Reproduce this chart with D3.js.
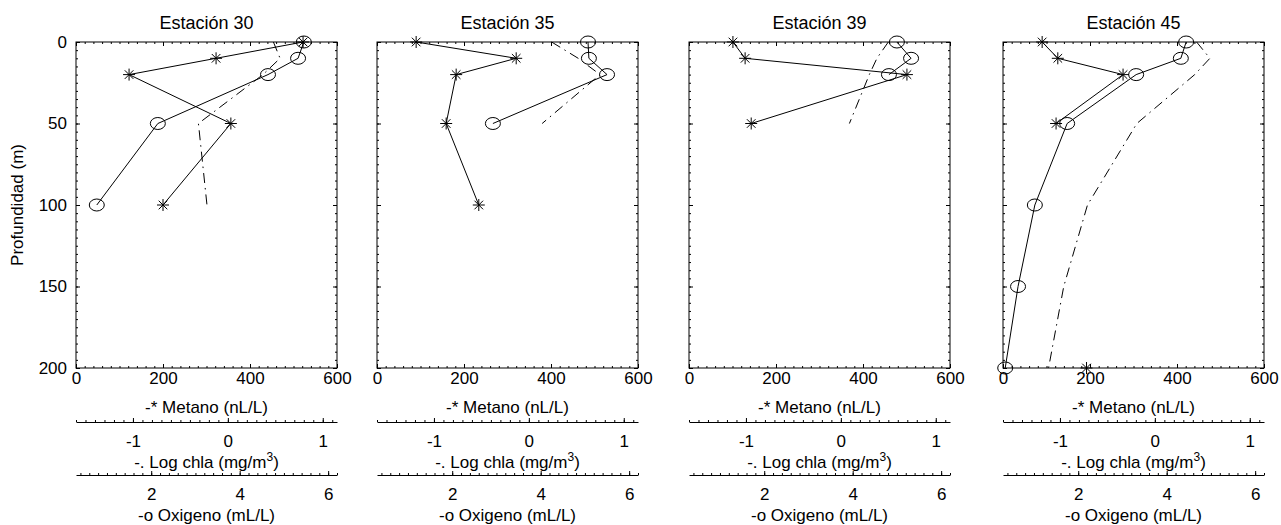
<!DOCTYPE html>
<html>
<head>
<meta charset="utf-8">
<script src="https://cdn.jsdelivr.net/npm/d3@7"></script>
<style>
  body { margin: 0; background: #fff; }
  svg { display: block; font-family: "Liberation Sans", Arial, sans-serif; }
</style>
</head>
<body>
<script>
// data
const stations = ["Estación 30", "Estación 35", "Estación 39", "Estación 45"];

const depthTicks = [0, 50, 100, 150, 200];
const metanoTicks = [0, 200, 400, 600];
const chlaTicks = [-1, 0, 1];
const oxigenoTicks = [2, 4, 6];

// metano (nL/L), "*" markers
const metanoDepth = [[0, 10, 20, 50, 100], [0, 10, 20, 50, 100], [0, 10, 20, 50], [0, 10, 20, 50, 100, 150, 200]];
const metano = [
  [522, 322, 122, 356, 200],
  [90, 320, 182, 159, 234],
  [101, 129, 501, 143],
  [90, 126, 276, 122, null, null, 192]
];

// oxigeno (mL/L), "o" markers
const oxigenoDepth = [[0, 10, 20, 50, 100], [0, 10, 20, 50], [0, 10, 20], [0, 10, 20, 50, 100, 150, 200]];
const oxigeno = [
  [5.45, 5.32, 4.64, 2.15, 0.77],
  [5.07, 5.09, 5.50, 2.92],
  [5.00, 5.32, 4.82],
  [4.44, 4.32, 3.31, 1.75, 1.02, 0.64, 0.35]
];

// log chla (mg/m3), dash-dot line
const chlaDepth = [[0, 10, 20, 50, 100], [0, 10, 20, 50], [0, 10, 20, 50], [0, 10, 20, 50, 100, 150, 200]];
const logChla = [
  [0.48, 0.55, 0.37, -0.31, -0.22],
  [0.24, 0.52, 0.75, 0.14],
  [0.50, 0.38, 0.30, 0.09],
  [0.44, 0.58, 0.42, -0.19, -0.71, -0.96, -1.12]
];

// layout
const width = 1281, height = 525;
const panelLeft = [76, 377, 689, 1003];
const panelW = 261;
const plotTop = 42, plotBottom = 368;
const chlaAxisY = 422, oxiAxisY = 475;
const font = "'Liberation Sans', Arial, sans-serif";

const svg = d3.select("body").append("svg")
  .attr("width", width)
  .attr("height", height);

const y = d3.scaleLinear().domain([0, 200]).range([plotTop, plotBottom]);

const starPath = "M-6,0H6M0,-6V6M-4.3,-4.3L4.3,4.3M-4.3,4.3L4.3,-4.3";
const plain = d => String(d);   // hyphen-minus like the original

function styleAxis(g, size) {
  g.attr("font-family", font).attr("font-size", size);
  g.selectAll("line").attr("stroke", "#000");
  g.selectAll("text").attr("fill", "#000");
}

stations.forEach(function (name, i) {
  const x0 = panelLeft[i];
  const x = d3.scaleLinear().domain([0, 600]).range([x0, x0 + panelW]);
  const xc = d3.scaleLinear().domain([-1.6, 1.15]).range([x0, x0 + panelW]);
  const xo = d3.scaleLinear().domain([0.3, 6.2]).range([x0, x0 + panelW]);

  const g = svg.append("g").attr("class", "panel");

  // title
  g.append("text")
    .attr("x", x0 + panelW / 2)
    .attr("y", 29)
    .attr("text-anchor", "middle")
    .attr("font-size", 18)
    .attr("font-family", font)
    .text(name);

  // frame ticks (inward), major + minor on all sides
  const minorX = d3.range(0, 601, 20), minorY = d3.range(0, 201, 5);

  g.append("g").attr("transform", `translate(0,${plotBottom})`)
    .call(d3.axisBottom(x).tickValues(minorX).tickSize(-2).tickFormat(""))
    .call(a => a.select(".domain").remove());
  g.append("g").attr("transform", `translate(0,${plotTop})`)
    .call(d3.axisTop(x).tickValues(minorX).tickSize(-2).tickFormat(""))
    .call(a => a.select(".domain").remove());
  g.append("g").attr("transform", `translate(${x0},0)`)
    .call(d3.axisLeft(y).tickValues(minorY).tickSize(-2).tickFormat(""))
    .call(a => a.select(".domain").remove());
  g.append("g").attr("transform", `translate(${x0 + panelW},0)`)
    .call(d3.axisRight(y).tickValues(minorY).tickSize(-2).tickFormat(""))
    .call(a => a.select(".domain").remove());

  g.append("g").attr("transform", `translate(0,${plotBottom})`)
    .call(d3.axisBottom(x).tickValues(metanoTicks).tickSize(-4).tickPadding(4).tickFormat(plain))
    .call(a => a.select(".domain").remove())
    .call(a => styleAxis(a, 17));
  g.append("g").attr("transform", `translate(0,${plotTop})`)
    .call(d3.axisTop(x).tickValues(metanoTicks).tickSize(-4).tickFormat(""))
    .call(a => a.select(".domain").remove());
  g.append("g").attr("transform", `translate(${x0},0)`)
    .call(d3.axisLeft(y).tickValues(depthTicks).tickSize(-4).tickPadding(9)
      .tickFormat(i === 0 ? plain : ""))
    .call(a => a.select(".domain").remove())
    .call(a => styleAxis(a, 17));
  g.append("g").attr("transform", `translate(${x0 + panelW},0)`)
    .call(d3.axisRight(y).tickValues(depthTicks).tickSize(-4).tickFormat(""))
    .call(a => a.select(".domain").remove());

  g.append("rect")
    .attr("x", x0).attr("y", plotTop)
    .attr("width", panelW).attr("height", plotBottom - plotTop)
    .attr("fill", "none").attr("stroke", "#000").attr("stroke-width", 1);

  // series
  const line = d3.line()
    .defined(d => d.v != null)
    .y(d => y(d.d));

  const chlaData = chlaDepth[i].map((d, j) => ({ d: d, v: logChla[i][j] }));
  g.append("path")
    .datum(chlaData)
    .attr("d", line.x(d => xc(d.v)))
    .attr("fill", "none").attr("stroke", "#000").attr("stroke-width", 1)
    .attr("stroke-dasharray", "10,5,1.5,5");

  const metData = metanoDepth[i].map((d, j) => ({ d: d, v: metano[i][j] }));
  g.append("path")
    .datum(metData)
    .attr("d", line.x(d => x(d.v)))
    .attr("fill", "none").attr("stroke", "#000").attr("stroke-width", 1);
  g.selectAll(".star")
    .data(metData.filter(d => d.v != null))
    .enter().append("path")
    .attr("class", "star")
    .attr("transform", d => `translate(${x(d.v)},${y(d.d)})`)
    .attr("d", starPath)
    .attr("stroke", "#000").attr("stroke-width", 1);

  const oxData = oxigenoDepth[i].map((d, j) => ({ d: d, v: oxigeno[i][j] }));
  g.append("path")
    .datum(oxData)
    .attr("d", line.x(d => xo(d.v)))
    .attr("fill", "none").attr("stroke", "#000").attr("stroke-width", 1);
  g.selectAll(".oxi")
    .data(oxData)
    .enter().append("ellipse")
    .attr("class", "oxi")
    .attr("cx", d => xo(d.v))
    .attr("cy", d => y(d.d))
    .attr("rx", 7.5).attr("ry", 6)
    .attr("fill", "none").attr("stroke", "#000").attr("stroke-width", 1);

  // metano title
  g.append("text")
    .attr("x", x0 + panelW / 2).attr("y", 413)
    .attr("text-anchor", "middle")
    .attr("font-size", 17).attr("font-family", font)
    .text("-* Metano (nL/L)");

  // secondary axis: log chla
  g.append("g").attr("transform", `translate(0,${chlaAxisY})`)
    .call(d3.axisBottom(xc).tickValues(d3.range(-1.6, 1.16, 0.1)).tickSize(-2).tickFormat(""))
    .call(a => a.select(".domain").remove());
  g.append("g").attr("transform", `translate(0,${chlaAxisY})`)
    .call(d3.axisBottom(xc).tickValues(chlaTicks).tickSize(-4).tickSizeOuter(0).tickPadding(13).tickFormat(plain))
    .call(a => a.select(".domain").attr("stroke", "#000"))
    .call(a => styleAxis(a, 17));
  const ct = g.append("text")
    .attr("x", x0 + panelW / 2).attr("y", 468)
    .attr("text-anchor", "middle")
    .attr("font-size", 17).attr("font-family", font);
  ct.append("tspan").text("-. Log chla (mg/m");
  ct.append("tspan").attr("font-size", 12).attr("dy", -7).text("3");
  ct.append("tspan").attr("dy", 7).text(")");

  // secondary axis: oxigeno
  g.append("g").attr("transform", `translate(0,${oxiAxisY})`)
    .call(d3.axisBottom(xo).tickValues(d3.range(0.4, 6.21, 0.2)).tickSize(-2).tickFormat(""))
    .call(a => a.select(".domain").remove());
  g.append("g").attr("transform", `translate(0,${oxiAxisY})`)
    .call(d3.axisBottom(xo).tickValues(oxigenoTicks).tickSize(-4).tickSizeOuter(0).tickPadding(13).tickFormat(plain))
    .call(a => a.select(".domain").attr("stroke", "#000"))
    .call(a => styleAxis(a, 17));
  g.append("text")
    .attr("x", x0 + panelW / 2).attr("y", 521)
    .attr("text-anchor", "middle")
    .attr("font-size", 17).attr("font-family", font)
    .text("-o Oxigeno (mL/L)");
});

// y label
svg.append("text")
  .attr("transform", `translate(23,${(plotTop + plotBottom) / 2}) rotate(-90)`)
  .attr("text-anchor", "middle")
  .attr("font-size", 17).attr("font-family", font)
  .text("Profundidad (m)");
</script>
</body>
</html>
